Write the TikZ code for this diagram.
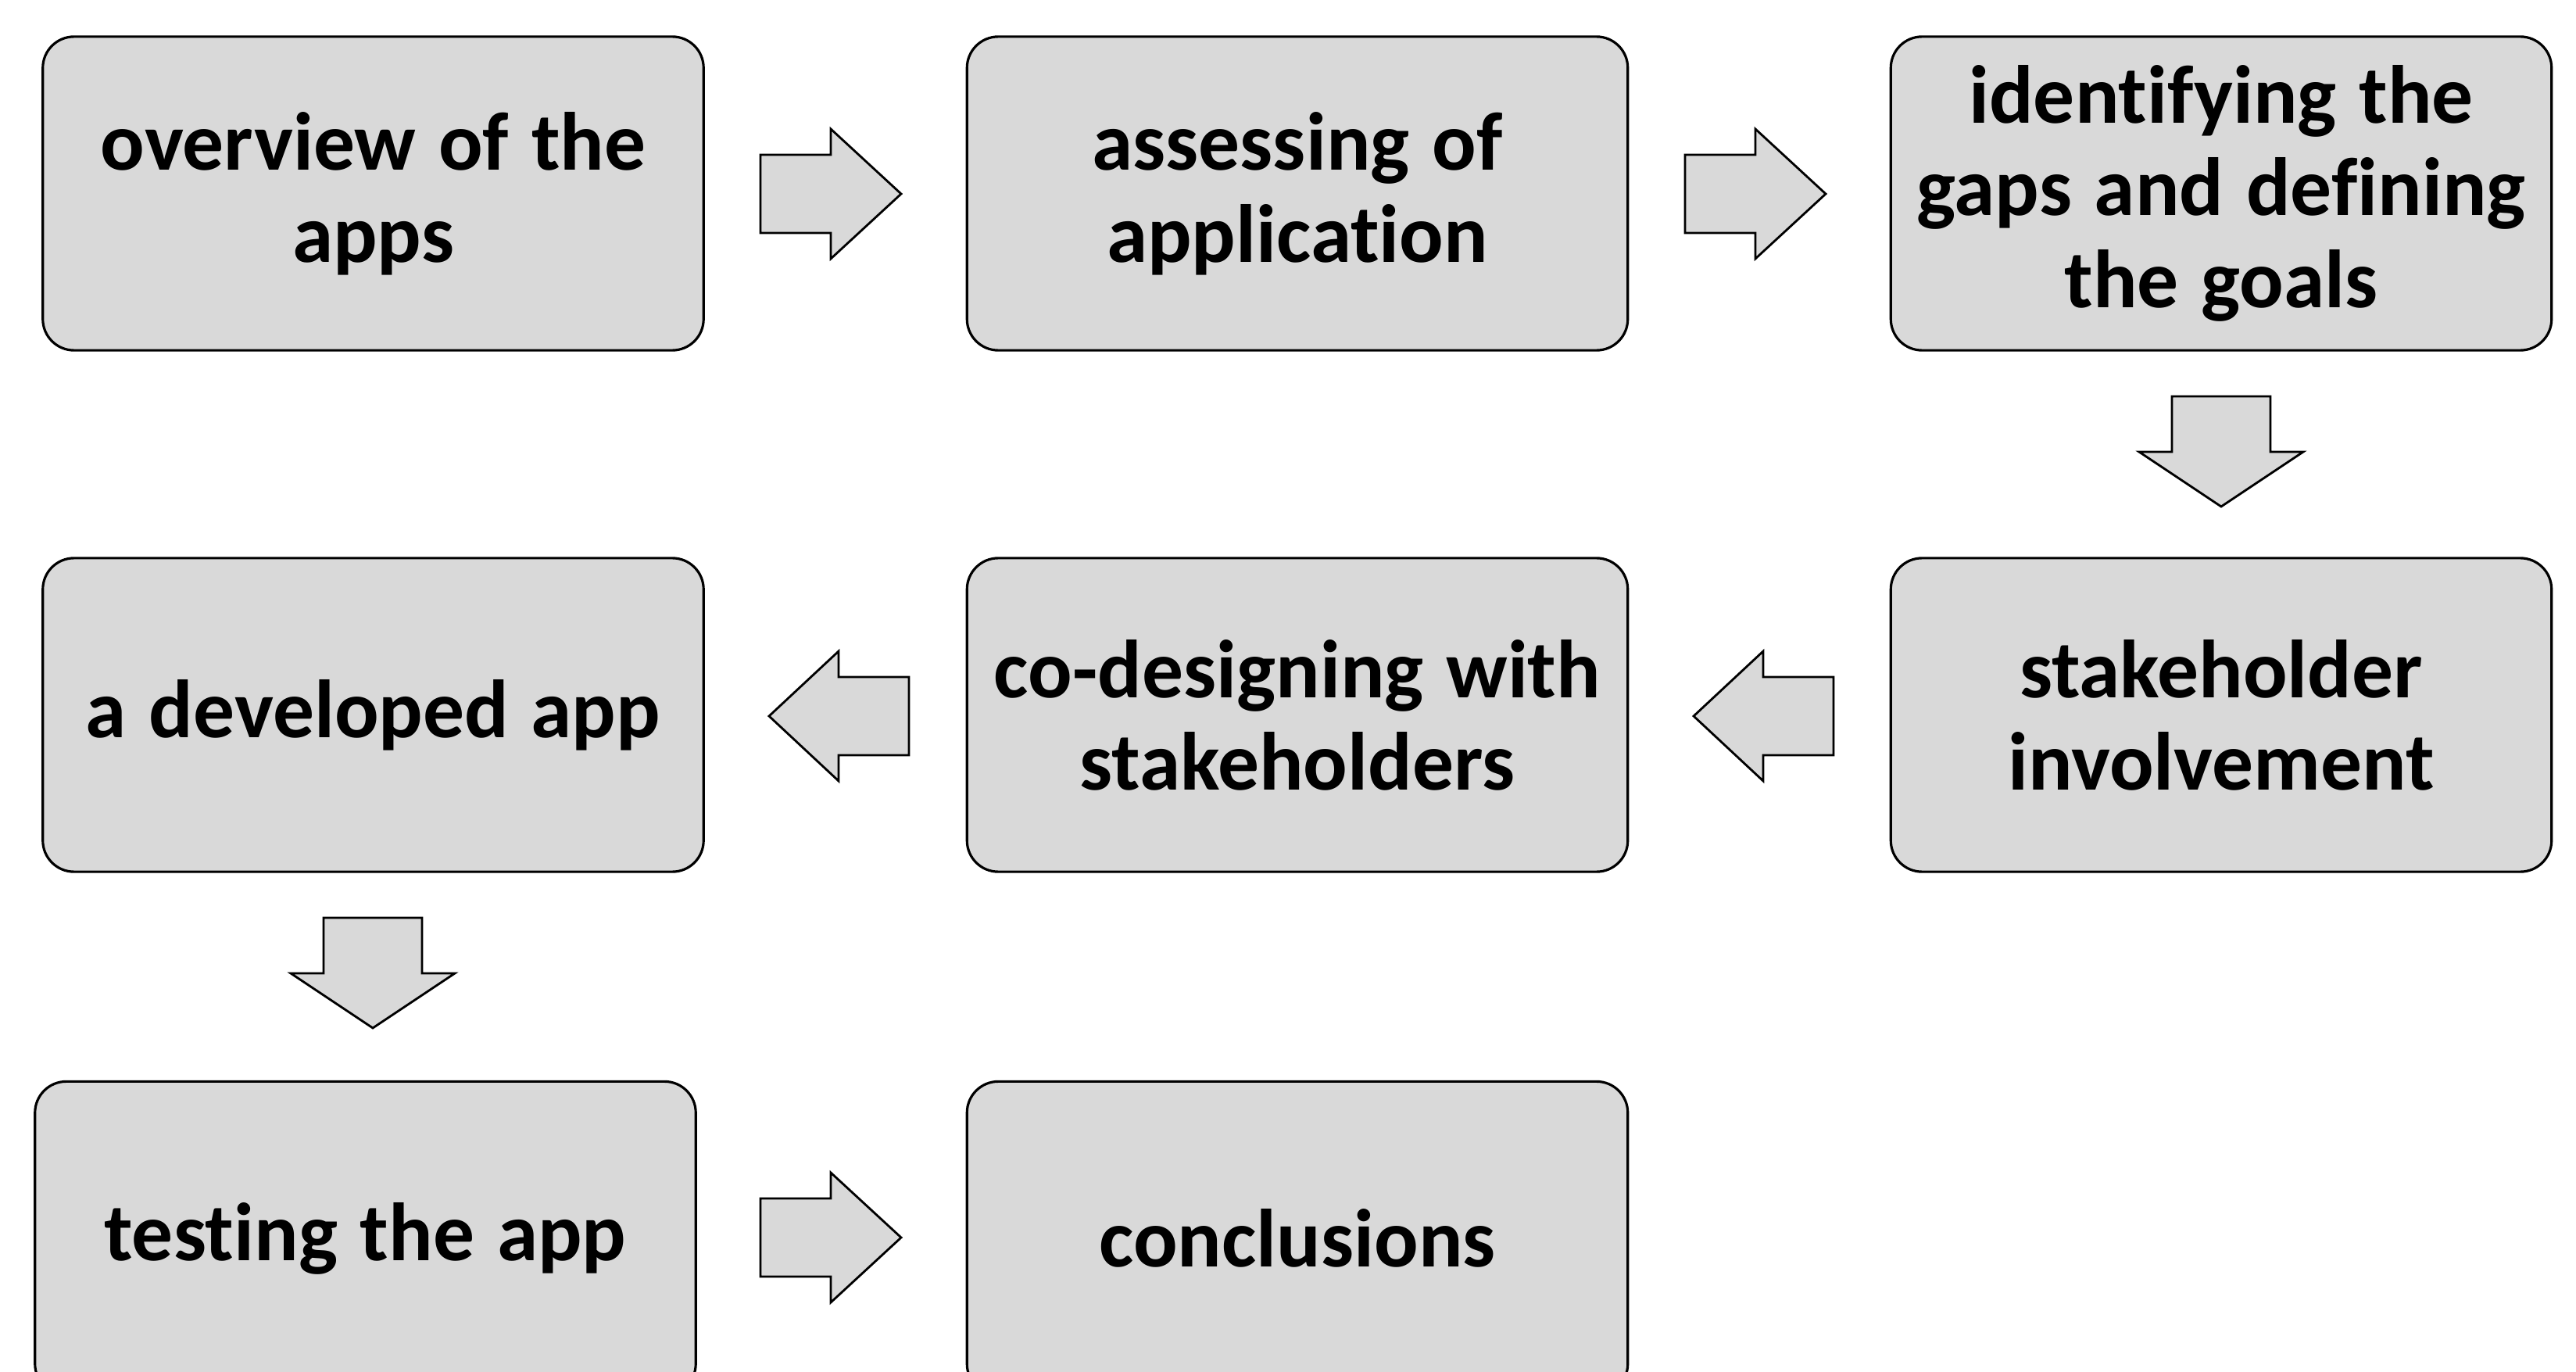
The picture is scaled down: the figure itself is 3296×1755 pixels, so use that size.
\documentclass[tikz,border=0pt]{standalone}
\usepackage{fontspec}
\setmainfont{Carlito}[Ligatures=NoCommon]
\definecolor{boxgray}{HTML}{D9D9D9}
\tikzset{
  stepbox/.style={draw=black, line width=0.9pt, fill=boxgray, rounded corners=0.4cm,
    minimum width=8.45cm, minimum height=4.01cm, inner sep=0pt, outer sep=0pt,
    align=center, text width=8.3cm,
    font=\fontsize{30}{33.5}\selectfont\bfseries,
    execute at begin node={\spaceskip=8.2pt\relax}},
  blockarrow/.style={draw=black, line width=0.8pt, fill=boxgray, line join=miter},
  rarrow/.pic={\draw[blockarrow] (0,50) -- (90,50) -- (90,83) -- (180,0) -- (90,-83) -- (90,-50) -- (0,-50) -- cycle;},
  larrow/.pic={\draw[blockarrow] (0,0) -- (89,-83) -- (89,-50) -- (179,-50) -- (179,50) -- (89,50) -- (89,83) -- cycle;},
  darrow/.pic={\draw[blockarrow] (-63,0) -- (63,0) -- (63,71) -- (105,71) -- (0,141) -- (-105,71) -- (-63,71) -- cycle;}
}
\begin{document}
\begin{tikzpicture}[x=0.01cm, y=-0.01cm]
\useasboundingbox (0,0) rectangle (3296,1755);
\clip (0,0) rectangle (3296,1755);
\fill[white] (0,0) rectangle (3296,1755);
% row 1
\node[stepbox] (b1) at (477.5,247.5) {overview of the\\apps};
\node[stepbox] (b2) at (1660,247.5) {assessing of\\application};
\node[stepbox] (b3) at (2842,247.5) {identifying the\\gaps and defining\\the goals};
% row 2
\node[stepbox] (b4) at (477.5,914.5) {a developed app};
\node[stepbox] (b5) at (1660,914.5) {co-designing with\\stakeholders};
\node[stepbox] (b6) at (2842,914.5) {stakeholder\\involvement};
% row 3
\node[stepbox] (b7) at (467.5,1584) {testing the app};
\node[stepbox] (b8) at (1660,1584) {conclusions};
% block arrows
\pic (a12) at (973,248) {rarrow};
\pic (a23) at (2156,248) {rarrow};
\pic (a36) at (2842,507) {darrow};
\pic (a65) at (2167,916) {larrow};
\pic (a54) at (984,916) {larrow};
\pic (a47) at (477,1174) {darrow};
\pic (a78) at (973,1583) {rarrow};
\end{tikzpicture}
\end{document}
